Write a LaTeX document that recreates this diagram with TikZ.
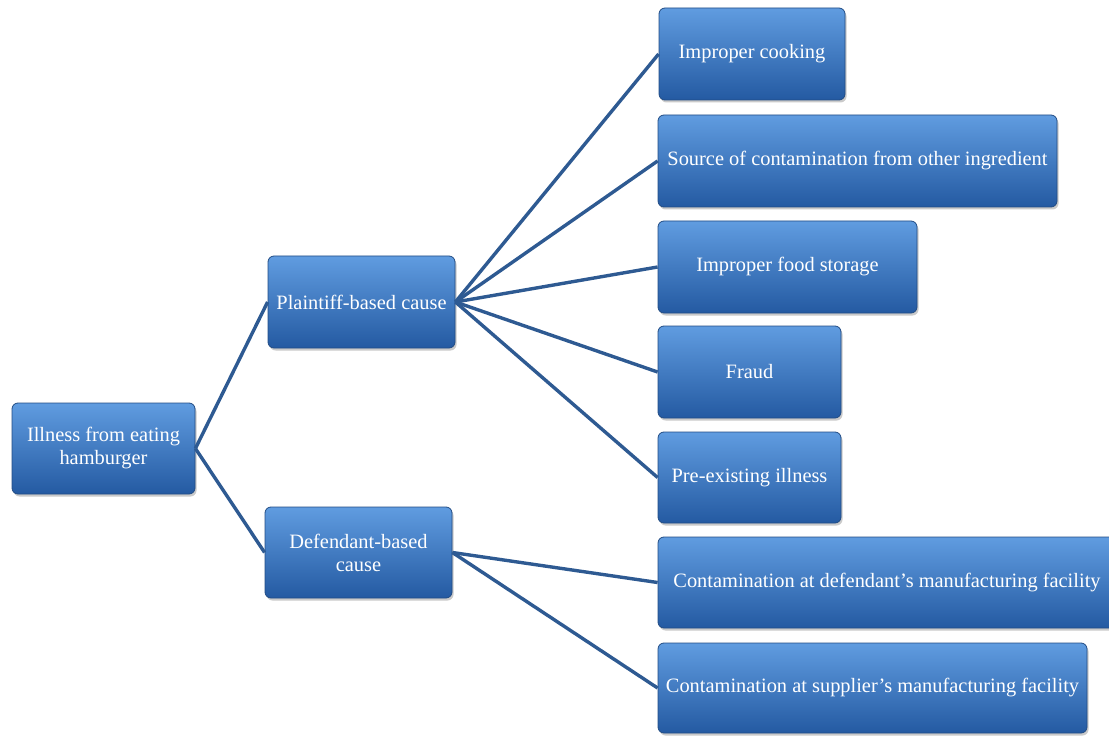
\documentclass[tikz,border=0pt]{standalone}
\usepackage{fontspec}
\setmainfont{Liberation Serif}
\usetikzlibrary{shadows}
\definecolor{boxtop}{RGB}{96,156,224}
\definecolor{boxmid}{RGB}{56,120,200}
\definecolor{boxbot}{RGB}{36,90,162}
\definecolor{boxedge}{RGB}{34,76,132}
\definecolor{linkc}{RGB}{46,90,146}
\tikzset{
  boxnode/.style={rectangle, rounded corners=6pt, draw=boxedge, line width=0.8pt,
    top color=boxtop, middle color=boxmid, bottom color=boxbot,
    text=white, align=center, inner sep=2pt,
    font=\fontsize{20.4}{23}\selectfont,
    drop shadow={shadow xshift=1.5pt, shadow yshift=-2.5pt, opacity=0.35, fill=black!60}},
  link/.style={draw=linkc, line width=3.4pt}
}
\begin{document}
\begin{tikzpicture}[x=1pt,y=-1pt]
\useasboundingbox (0,0) rectangle (1109,738);
\node[boxnode, minimum width=183pt, minimum height=91pt] (root) at (103.5,448.5) {Illness from eating\\hamburger};
\node[boxnode, minimum width=187pt, minimum height=92pt] (pl) at (361.5,302) {Plaintiff-based cause};
\node[boxnode, minimum width=187pt, minimum height=91pt] (df) at (358.5,552.5) {Defendant-based\\cause};
\node[boxnode, minimum width=186pt, minimum height=92pt] (c1) at (752,54) {Improper cooking};
\node[boxnode, minimum width=399pt, minimum height=92pt] (c2) at (857.5,161) {Source of contamination from other ingredient};
\node[boxnode, minimum width=259pt, minimum height=92pt] (c3) at (787.5,267) {Improper food storage};
\node[boxnode, minimum width=183pt, minimum height=92pt] (c4) at (749.5,372) {Fraud};
\node[boxnode, minimum width=183pt, minimum height=91pt] (c5) at (749.5,477.5) {Pre-existing illness};
\node[boxnode, minimum width=458pt, minimum height=91pt] (d1) at (887,582.5) {Contamination at defendant's manufacturing facility};
\node[boxnode, minimum width=429pt, minimum height=90pt] (d2) at (872.5,688) {Contamination at supplier's manufacturing facility};
\draw[link] (root.east) -- (pl.west);
\draw[link] (root.east) -- (df.west);
\foreach \c in {c1,c2,c3,c4,c5} \draw[link] (pl.east) -- (\c.west);
\draw[link] (df.east) -- (d1.west);
\draw[link] (df.east) -- (d2.west);
\end{tikzpicture}
\end{document}
